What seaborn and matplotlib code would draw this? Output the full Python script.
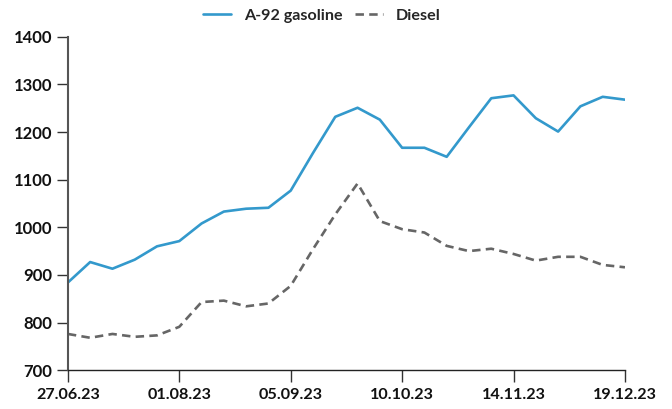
import matplotlib
matplotlib.use("Agg")
import matplotlib.pyplot as plt
import seaborn as sns
import pandas as pd

dates = ["2023-06-27", "2023-07-04", "2023-07-11", "2023-07-18", "2023-07-25",
         "2023-08-01", "2023-08-08", "2023-08-15", "2023-08-22", "2023-08-29",
         "2023-09-05", "2023-09-12", "2023-09-19", "2023-09-26", "2023-10-03",
         "2023-10-10", "2023-10-17", "2023-10-24", "2023-10-31", "2023-11-07",
         "2023-11-14", "2023-11-21", "2023-11-28", "2023-12-05", "2023-12-12",
         "2023-12-19"]
gasoline = [884, 927, 913, 932, 960, 971, 1008, 1033, 1039, 1041,
            1077, 1156, 1232, 1251, 1226, 1167, 1167, 1148, 1210, 1271,
            1277, 1229, 1201, 1254, 1274, 1268]
diesel = [776, 768, 776, 770, 773, 791, 843, 846, 834, 840,
          877, 954, 1027, 1092, 1013, 996, 989, 961, 950, 955,
          944, 930, 938, 938, 921, 916]
series_names = ["A-92 gasoline", "Diesel"]
tick_labels = ["27.06.23", "01.08.23", "05.09.23", "10.10.23", "14.11.23", "19.12.23"]
y_ticks = [700, 800, 900, 1000, 1100, 1200, 1300, 1400]

sns.set_theme(style="white")
plt.rcParams["font.family"] = ["Lato", "DejaVu Sans"]
plt.rcParams["font.weight"] = "bold"

dt = pd.to_datetime(dates)
df = pd.DataFrame({
    "date": list(dt) * 2,
    "value": gasoline + diesel,
    "series": [series_names[0]] * len(dates) + [series_names[1]] * len(dates),
})

fig = plt.figure(figsize=(6.72, 4.09), dpi=100)
ax = fig.add_axes([0.101, 0.095, 0.829, 0.815])
sns.lineplot(data=df, x="date", y="value", hue="series", style="series",
             palette={series_names[0]: "#3399cc", series_names[1]: "#666666"},
             dashes={series_names[0]: "", series_names[1]: (3.2, 2.0)},
             linewidth=1.9, ax=ax)

handles, labels = ax.get_legend_handles_labels()
ax.get_legend().remove()
fig.legend(handles, labels, loc="center", bbox_to_anchor=(0.479, 0.962), ncol=2,
           frameon=False, handlelength=1.7, columnspacing=0.8,
           handletextpad=0.8, prop={"weight": "bold", "size": 11.6})

ax.set_xlim(dt[0], dt[-1])
ax.set_ylim(700, 1400)
tick_dates = pd.to_datetime(tick_labels, format="%d.%m.%y")
ax.set_xticks(tick_dates)
ax.set_xticklabels(tick_labels, fontsize=11.6, fontweight="bold")
ax.set_yticks(y_ticks)
ax.set_yticklabels([str(v) for v in y_ticks], fontsize=12, fontweight="bold")
ax.set_xlabel("")
ax.set_ylabel("")

for s in ["top", "right"]:
    ax.spines[s].set_visible(False)
ax.spines["left"].set_color("#555555")
ax.spines["left"].set_linewidth(1.5)
ax.spines["bottom"].set_color("#222222")
ax.spines["bottom"].set_linewidth(1.0)
ax.tick_params(axis="y", left=True, length=8, width=1, color="#333333", pad=3, labelcolor="#111111")
ax.tick_params(axis="x", bottom=True, length=8.5, width=1, color="#333333", pad=4, labelcolor="#111111")
ax.grid(False)

fig.savefig("out.png", dpi=100)
